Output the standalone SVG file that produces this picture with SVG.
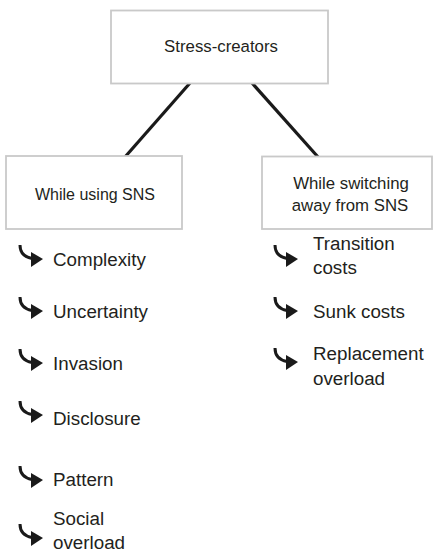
<svg xmlns="http://www.w3.org/2000/svg" width="435" height="552" viewBox="0 0 435 552">
<style>
.box{fill:#fff;stroke:#c9c9c9;stroke-width:1.8}
.bt{font-family:"Liberation Sans",Arial,sans-serif;font-size:16.8px;fill:#231f20;text-anchor:middle}
.lt{font-family:"Liberation Sans",Arial,sans-serif;font-size:18.8px;fill:#231f20}
.conn{stroke:#1a1a1a;stroke-width:3.2;stroke-linecap:butt}
.hk{fill:none;stroke:#1a1a1a;stroke-width:3}
.hd{fill:#1a1a1a}
</style>
<defs>
<g id="hook">
<path class="hk" d="M0,0 C0,8 4,12 12,13.5"/>
<polygon class="hd" points="11,7 23,14 11,22"/>
</g>
</defs>
<rect width="435" height="552" fill="#fff"/>
<g id="connectors">
<line class="conn" x1="190" y1="83" x2="125" y2="157"/>
<line class="conn" x1="252" y1="83" x2="318" y2="157"/>
</g>
<g id="stress-creators">
<rect class="box" x="111" y="10.5" width="217" height="73"/>
<text class="bt" x="221" y="52">Stress-creators</text>
</g>
<g id="while-using">
<rect class="box" x="6" y="156" width="176" height="73"/>
<text class="bt" x="95" y="200" style="font-size:16px">While using SNS</text>
</g>
<g id="while-switching">
<rect class="box" x="262" y="156.5" width="170" height="72.5"/>
<text class="bt" x="351" y="189">While switching</text>
<text class="bt" x="350" y="211">away from SNS</text>
</g>
<g id="using-items">
<use href="#hook" x="20" y="245"/><text class="lt" x="53" y="266">Complexity</text>
<use href="#hook" x="20" y="297"/><text class="lt" x="53" y="318">Uncertainty</text>
<use href="#hook" x="20" y="349"/><text class="lt" x="53" y="370">Invasion</text>
<use href="#hook" x="20" y="401"/><text class="lt" x="53" y="425">Disclosure</text>
<use href="#hook" x="20" y="466"/><text class="lt" x="53" y="486">Pattern</text>
<use href="#hook" x="20" y="524"/><text class="lt" x="53" y="525">Social</text><text class="lt" x="53" y="549">overload</text>
</g>
<g id="switching-items">
<use href="#hook" x="275" y="245"/><text class="lt" x="313" y="250">Transition</text><text class="lt" x="313" y="274">costs</text>
<use href="#hook" x="275" y="297"/><text class="lt" x="313" y="318">Sunk costs</text>
<use href="#hook" x="275" y="348"/><text class="lt" x="313" y="360">Replacement</text><text class="lt" x="313" y="385">overload</text>
</g>
</svg>
